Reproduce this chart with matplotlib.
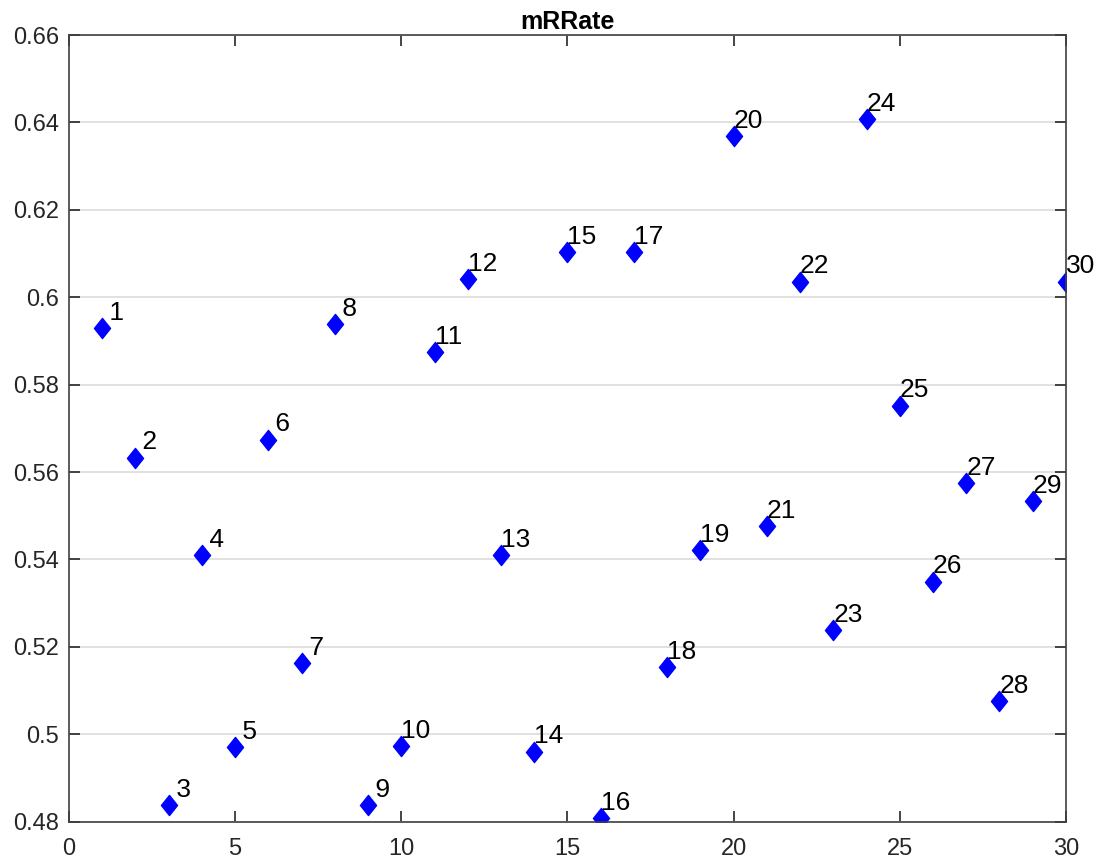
import numpy as np
import matplotlib
matplotlib.use('Agg')
import matplotlib.pyplot as plt
from matplotlib.path import Path

plt.rcParams['font.family'] = ['Liberation Sans', 'DejaVu Sans']

# mRRate per sample index
idx = np.arange(1, 31)
mrrate = [0.5930, 0.5633, 0.4838, 0.5410, 0.4971, 0.5674, 0.5163, 0.5938, 0.4838, 0.4972,
          0.5874, 0.6041, 0.5410, 0.4960, 0.6103, 0.4808, 0.6103, 0.5154, 0.5421, 0.6369,
          0.5476, 0.6036, 0.5238, 0.6407, 0.5752, 0.5349, 0.5575, 0.5075, 0.5533, 0.6036]
labels = ['%2d' % i for i in idx]   # num2str style padding

xticks = [0, 5, 10, 15, 20, 25, 30]
yticks = [0.48, 0.50, 0.52, 0.54, 0.56, 0.58, 0.60, 0.62, 0.64, 0.66]
yticklabels = ['0.48', '0.5', '0.52', '0.54', '0.56', '0.58', '0.6', '0.62', '0.64', '0.66']

diamond = Path([(0, 1), (0.8, 0), (0, -1), (-0.8, 0), (0, 1)],
               [Path.MOVETO, Path.LINETO, Path.LINETO, Path.LINETO, Path.CLOSEPOLY])

fig = plt.figure(figsize=(11.02, 8.63), dpi=100)
ax = fig.add_axes([0.0626, 0.0479, 0.9047, 0.9115])

ax.plot(idx, mrrate, ls='none', marker=diamond, markersize=14.5,
        color='#0000ff', markeredgecolor='#0000ff')
for x, y, s in zip(idx, mrrate, labels):
    ax.text(x, y + 0.0035, s, fontsize=19, color='black', ha='left', va='center')

ax.set_xlim(0, 30)
ax.set_ylim(0.48, 0.66)
ax.set_xticks(xticks)
ax.set_yticks(yticks)
ax.set_yticklabels(yticklabels)
ax.yaxis.grid(True, color='#dcdcdc', lw=1.2)
ax.set_axisbelow(True)
ax.tick_params(direction='in', length=8, width=1.2, top=True, right=True,
               labelsize=17, colors='#262626', pad=7)
ax.tick_params(axis='x', pad=12)
for sp in ax.spines.values():
    sp.set_color('#404040')
    sp.set_linewidth(1.2)
ax.set_title('mRRate', fontsize=18, fontweight='bold', pad=4)

fig.savefig('out.png', dpi=100)
